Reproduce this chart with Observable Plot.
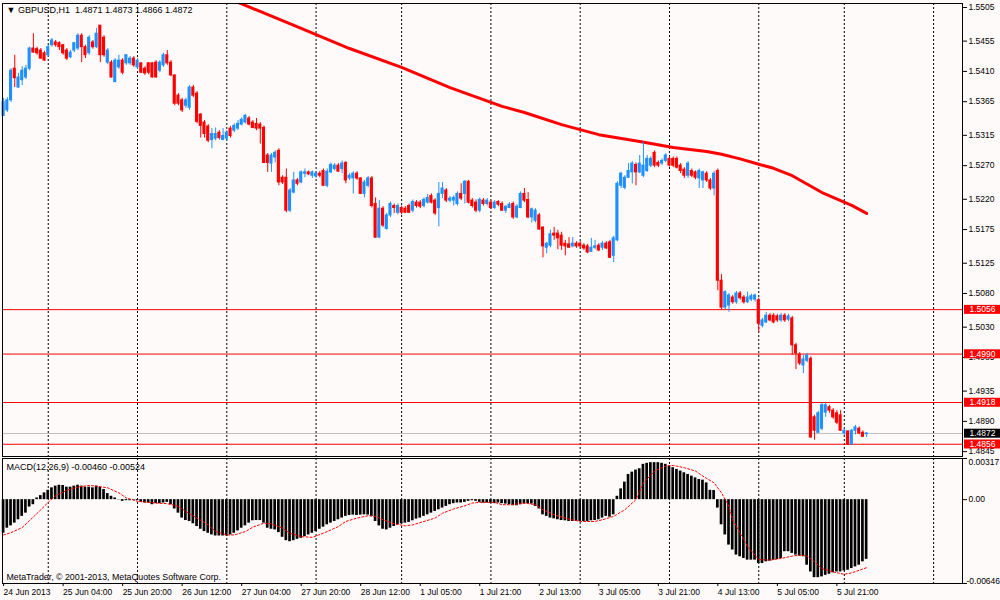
<!DOCTYPE html>
<html><head><meta charset="utf-8">
<script src="https://cdn.jsdelivr.net/npm/d3@7"></script>
<script src="https://cdn.jsdelivr.net/npm/@observablehq/plot@0.6"></script>
<style>
html,body{margin:0;padding:0;background:#fffafa;}
#chart{position:relative;width:1000px;height:600px;background:#fffafa;overflow:hidden;}
#chart svg{position:absolute;left:0;}
</style></head>
<body><div id="chart"></div>
<script>
const symbol = "GBPUSD", timeframe = "H1";
const open = [
1.5344,1.5352,1.5367,1.5414,1.5386,1.5397,1.5401,1.5414,1.5444,1.5443,
1.5441,1.5437,1.5434,1.5449,1.5453,1.5452,1.5449,1.5441,1.5431,1.5441,
1.5444,1.5463,1.5446,1.5437,1.5453,1.5446,1.5478,1.5460,1.5423,1.5423,
1.5394,1.5416,1.5426,1.5422,1.5422,1.5429,1.5416,1.5422,1.5414,1.5422,
1.5422,1.5423,1.5411,1.5419,1.5434,1.5423,1.5404,1.5374,1.5367,1.5359,
1.5356,1.5386,1.5377,1.5346,1.5334,1.5328,1.5308,1.5310,1.5319,1.5308,
1.5310,1.5325,1.5322,1.5325,1.5331,1.5334,1.5340,1.5334,1.5332,1.5331,
1.5326,1.5285,1.5273,1.5282,1.5292,1.5252,1.5252,1.5203,1.5230,1.5248,
1.5245,1.5258,1.5260,1.5255,1.5254,1.5258,1.5262,1.5240,1.5260,1.5265,
1.5270,1.5265,1.5274,1.5251,1.5251,1.5258,1.5251,1.5228,1.5240,1.5251,
1.5213,1.5163,1.5206,1.5176,1.5196,1.5210,1.5200,1.5207,1.5206,1.5210,
1.5203,1.5215,1.5215,1.5210,1.5215,1.5225,1.5218,1.5207,1.5228,1.5233,
1.5218,1.5218,1.5213,1.5228,1.5228,1.5246,1.5218,1.5215,1.5203,1.5218,
1.5213,1.5215,1.5207,1.5216,1.5213,1.5203,1.5207,1.5213,1.5193,1.5207,
1.5228,1.5219,1.5193,1.5188,1.5196,1.5178,1.5148,1.5151,1.5169,1.5169,
1.5166,1.5154,1.5153,1.5150,1.5154,1.5154,1.5151,1.5150,1.5142,1.5148,
1.5151,1.5148,1.5154,1.5156,1.5136,1.5159,1.5240,1.5237,1.5252,1.5260,
1.5271,1.5260,1.5255,1.5262,1.5270,1.5289,1.5274,1.5273,1.5277,1.5280,
1.5280,1.5280,1.5270,1.5264,1.5255,1.5262,1.5260,1.5251,1.5248,1.5258,
1.5248,1.5236,1.5262,1.5099,1.5059,1.5062,1.5074,1.5067,1.5080,1.5074,
1.5067,1.5071,1.5071,1.5070,1.5032,1.5037,1.5047,1.5047,1.5046,1.5040,
1.5047,1.5041,1.5043,1.5003,1.4989,1.4973,1.4980,1.4983,1.4896,1.4873,
1.4879,1.4903,1.4911,1.4906,1.4902,1.4899,1.4872,1.4875,1.4856,1.4876,
1.4879,1.4873,1.4871];
const high = [
1.5370,1.5371,1.5414,1.5434,1.5407,1.5417,1.5419,1.5446,1.5466,1.5446,
1.5444,1.5440,1.5449,1.5459,1.5456,1.5454,1.5450,1.5444,1.5441,1.5453,
1.5466,1.5466,1.5449,1.5463,1.5456,1.5474,1.5478,1.5463,1.5444,1.5426,
1.5429,1.5434,1.5429,1.5435,1.5432,1.5432,1.5429,1.5423,1.5417,1.5423,
1.5423,1.5426,1.5426,1.5437,1.5441,1.5426,1.5405,1.5377,1.5370,1.5370,
1.5389,1.5389,1.5380,1.5347,1.5337,1.5331,1.5325,1.5326,1.5322,1.5325,
1.5322,1.5328,1.5332,1.5337,1.5341,1.5346,1.5343,1.5337,1.5340,1.5334,
1.5329,1.5288,1.5288,1.5292,1.5295,1.5255,1.5265,1.5236,1.5260,1.5251,
1.5262,1.5265,1.5262,1.5262,1.5261,1.5261,1.5265,1.5265,1.5274,1.5273,
1.5273,1.5277,1.5276,1.5258,1.5261,1.5261,1.5252,1.5248,1.5254,1.5254,
1.5222,1.5218,1.5209,1.5199,1.5216,1.5213,1.5213,1.5210,1.5209,1.5213,
1.5219,1.5218,1.5218,1.5222,1.5227,1.5228,1.5221,1.5245,1.5245,1.5236,
1.5224,1.5225,1.5231,1.5243,1.5248,1.5248,1.5221,1.5219,1.5222,1.5221,
1.5221,1.5218,1.5218,1.5218,1.5216,1.5210,1.5215,1.5216,1.5212,1.5231,
1.5236,1.5230,1.5207,1.5206,1.5199,1.5179,1.5156,1.5174,1.5178,1.5174,
1.5171,1.5159,1.5163,1.5163,1.5157,1.5157,1.5154,1.5153,1.5162,1.5159,
1.5154,1.5157,1.5157,1.5159,1.5165,1.5246,1.5260,1.5255,1.5273,1.5276,
1.5274,1.5285,1.5305,1.5285,1.5283,1.5292,1.5277,1.5280,1.5288,1.5283,
1.5283,1.5283,1.5273,1.5267,1.5276,1.5265,1.5262,1.5265,1.5262,1.5261,
1.5251,1.5261,1.5265,1.5108,1.5084,1.5080,1.5077,1.5083,1.5083,1.5077,
1.5082,1.5079,1.5079,1.5073,1.5043,1.5052,1.5050,1.5050,1.5049,1.5050,
1.5050,1.5049,1.5046,1.5006,1.4992,1.4988,1.4991,1.4986,1.4899,1.4905,
1.4917,1.4917,1.4914,1.4909,1.4906,1.4906,1.4879,1.4876,1.4878,1.4884,
1.4882,1.4876,1.4873];
const low = [
1.5343,1.5349,1.5364,1.5386,1.5385,1.5389,1.5398,1.5411,1.5437,1.5434,
1.5428,1.5425,1.5431,1.5446,1.5446,1.5441,1.5434,1.5426,1.5429,1.5438,
1.5441,1.5423,1.5429,1.5434,1.5443,1.5444,1.5423,1.5431,1.5420,1.5400,
1.5394,1.5413,1.5405,1.5419,1.5419,1.5416,1.5413,1.5407,1.5404,1.5405,
1.5400,1.5400,1.5408,1.5416,1.5419,1.5402,1.5359,1.5359,1.5349,1.5355,
1.5352,1.5371,1.5332,1.5311,1.5311,1.5304,1.5295,1.5307,1.5308,1.5307,
1.5307,1.5311,1.5319,1.5322,1.5329,1.5332,1.5329,1.5325,1.5322,1.5302,
1.5273,1.5260,1.5260,1.5274,1.5240,1.5242,1.5200,1.5200,1.5228,1.5240,
1.5243,1.5252,1.5255,1.5251,1.5251,1.5252,1.5239,1.5237,1.5258,1.5262,
1.5260,1.5258,1.5243,1.5248,1.5228,1.5248,1.5227,1.5222,1.5237,1.5207,
1.5162,1.5162,1.5178,1.5174,1.5193,1.5199,1.5197,1.5197,1.5199,1.5199,
1.5200,1.5207,1.5206,1.5207,1.5213,1.5213,1.5196,1.5179,1.5221,1.5215,
1.5215,1.5210,1.5210,1.5218,1.5213,1.5213,1.5207,1.5200,1.5200,1.5210,
1.5210,1.5205,1.5205,1.5209,1.5202,1.5199,1.5206,1.5190,1.5191,1.5206,
1.5215,1.5191,1.5185,1.5185,1.5174,1.5133,1.5139,1.5148,1.5159,1.5145,
1.5144,1.5136,1.5147,1.5148,1.5147,1.5147,1.5144,1.5139,1.5141,1.5145,
1.5142,1.5144,1.5145,1.5132,1.5126,1.5157,1.5236,1.5234,1.5251,1.5243,
1.5240,1.5258,1.5252,1.5260,1.5267,1.5267,1.5267,1.5270,1.5274,1.5268,
1.5267,1.5265,1.5258,1.5251,1.5251,1.5252,1.5249,1.5236,1.5236,1.5245,
1.5233,1.5225,1.5084,1.5056,1.5056,1.5052,1.5064,1.5064,1.5070,1.5064,
1.5065,1.5068,1.5067,1.5022,1.5029,1.5035,1.5038,1.5035,1.5037,1.5037,
1.5037,1.5038,1.4988,1.4967,1.4973,1.4961,1.4977,1.4865,1.4862,1.4872,
1.4876,1.4896,1.4902,1.4893,1.4885,1.4875,1.4869,1.4854,1.4854,1.4870,
1.4870,1.4866,1.4866];
const close = [
1.5364,1.5367,1.5411,1.5400,1.5401,1.5411,1.5414,1.5444,1.5438,1.5437,
1.5429,1.5426,1.5446,1.5456,1.5449,1.5446,1.5437,1.5429,1.5438,1.5452,
1.5463,1.5446,1.5434,1.5460,1.5446,1.5466,1.5434,1.5434,1.5441,1.5401,
1.5426,1.5426,1.5408,1.5434,1.5429,1.5419,1.5426,1.5408,1.5407,1.5408,
1.5401,1.5401,1.5423,1.5434,1.5422,1.5404,1.5362,1.5362,1.5352,1.5367,
1.5386,1.5374,1.5335,1.5329,1.5317,1.5307,1.5317,1.5317,1.5311,1.5314,
1.5319,1.5314,1.5329,1.5332,1.5338,1.5344,1.5331,1.5326,1.5325,1.5325,
1.5274,1.5274,1.5285,1.5289,1.5245,1.5245,1.5203,1.5233,1.5248,1.5243,
1.5260,1.5260,1.5257,1.5260,1.5258,1.5255,1.5240,1.5261,1.5271,1.5270,
1.5261,1.5273,1.5248,1.5255,1.5258,1.5251,1.5228,1.5245,1.5251,1.5210,
1.5163,1.5206,1.5181,1.5196,1.5213,1.5207,1.5210,1.5200,1.5200,1.5200,
1.5216,1.5210,1.5209,1.5219,1.5222,1.5215,1.5199,1.5228,1.5236,1.5218,
1.5221,1.5222,1.5228,1.5221,1.5246,1.5215,1.5210,1.5203,1.5219,1.5213,
1.5218,1.5207,1.5215,1.5212,1.5203,1.5209,1.5212,1.5193,1.5209,1.5228,
1.5218,1.5193,1.5205,1.5203,1.5175,1.5150,1.5154,1.5168,1.5166,1.5162,
1.5151,1.5150,1.5148,1.5154,1.5150,1.5150,1.5147,1.5141,1.5148,1.5150,
1.5144,1.5154,1.5147,1.5133,1.5162,1.5243,1.5258,1.5252,1.5262,1.5273,
1.5260,1.5273,1.5270,1.5280,1.5280,1.5270,1.5270,1.5277,1.5285,1.5270,
1.5270,1.5267,1.5262,1.5255,1.5273,1.5255,1.5252,1.5262,1.5260,1.5248,
1.5236,1.5258,1.5099,1.5059,1.5082,1.5077,1.5067,1.5080,1.5073,1.5067,
1.5074,1.5076,1.5077,1.5035,1.5040,1.5047,1.5040,1.5037,1.5040,1.5047,
1.5040,1.5046,1.5003,1.4991,1.4976,1.4982,1.4988,1.4866,1.4876,1.4902,
1.4914,1.4914,1.4906,1.4896,1.4888,1.4876,1.4876,1.4856,1.4876,1.4881,
1.4872,1.4867,1.4872];

const maBar = [61,65,80,93,107,120,134,140,150,160,171,180,189,193,198,203,207,212,220,228,232];
const maValue = [1.5517,1.5508,1.5474,1.5444,1.5416,1.5386,1.5358,1.5349,1.5331,1.5316,1.5306,1.5297,1.5291,1.5287,1.5280,1.5272,1.5266,1.5255,1.5230,1.5211,1.5199];

const levels = [1.5056, 1.4990, 1.4918, 1.4856];
const currentPrice = 1.4872;
const priceTicks = [1.5505,1.5455,1.5410,1.5365,1.5315,1.5270,1.5220,1.5175,1.5125,1.5080,1.5030,1.4985,1.4935,1.4890,1.4845];

const gridBars = [12,36,60,84,107,131,155,179,203,226,250];
const labelBars = [0,16,32,48,64,80,96,112,128,144,160,176,192,208,224];
const timeLabels = ["24 Jun 2013","25 Jun 04:00","25 Jun 20:00","26 Jun 12:00","27 Jun 04:00","27 Jun 20:00","28 Jun 12:00","1 Jul 05:00","1 Jul 21:00","2 Jul 13:00","3 Jul 05:00","3 Jul 21:00","4 Jul 13:00","5 Jul 05:00","5 Jul 21:00"];

const macdHist = [
-0.00259,-0.00220,-0.00202,-0.00181,-0.00155,-0.00129,-0.00104,-0.00057,-0.00039,0.00013,
0.00031,0.00052,0.00072,0.00091,0.00104,0.00111,0.00109,0.00096,0.00096,0.00104,
0.00111,0.00104,0.00096,0.00096,0.00091,0.00104,0.00096,0.00078,0.00047,0.00026,
0.00013,-0.00002,-0.00013,-0.00008,-0.00008,-0.00005,-0.00008,-0.00021,-0.00026,-0.00026,
-0.00039,-0.00031,-0.00031,-0.00026,-0.00021,-0.00039,-0.00072,-0.00104,-0.00142,-0.00161,
-0.00168,-0.00186,-0.00207,-0.00228,-0.00246,-0.00259,-0.00272,-0.00280,-0.00280,-0.00280,
-0.00280,-0.00272,-0.00259,-0.00241,-0.00220,-0.00202,-0.00181,-0.00163,-0.00161,-0.00161,
-0.00181,-0.00220,-0.00228,-0.00233,-0.00254,-0.00290,-0.00316,-0.00324,-0.00316,-0.00306,
-0.00298,-0.00285,-0.00272,-0.00259,-0.00246,-0.00228,-0.00212,-0.00194,-0.00181,-0.00168,
-0.00155,-0.00142,-0.00129,-0.00122,-0.00119,-0.00122,-0.00119,-0.00117,-0.00119,-0.00129,
-0.00168,-0.00202,-0.00228,-0.00233,-0.00220,-0.00207,-0.00194,-0.00186,-0.00181,-0.00176,
-0.00163,-0.00150,-0.00142,-0.00129,-0.00117,-0.00104,-0.00091,-0.00078,-0.00065,-0.00052,
-0.00039,-0.00031,-0.00026,-0.00026,-0.00021,-0.00013,-0.00008,-0.00013,-0.00021,-0.00026,
-0.00026,-0.00026,-0.00031,-0.00026,-0.00031,-0.00034,-0.00039,-0.00047,-0.00047,-0.00039,
-0.00034,-0.00031,-0.00034,-0.00052,-0.00072,-0.00117,-0.00129,-0.00142,-0.00148,-0.00155,
-0.00161,-0.00163,-0.00168,-0.00168,-0.00168,-0.00168,-0.00168,-0.00168,-0.00163,-0.00161,
-0.00155,-0.00142,-0.00129,-0.00135,-0.00117,0.00026,0.00083,0.00135,0.00194,0.00212,
0.00228,0.00238,0.00272,0.00280,0.00285,0.00285,0.00285,0.00280,0.00272,0.00259,
0.00246,0.00233,0.00220,0.00207,0.00194,0.00181,0.00168,0.00155,0.00150,0.00129,
0.00072,0.00070,-0.00065,-0.00194,-0.00272,-0.00350,-0.00388,-0.00427,-0.00440,-0.00453,
-0.00466,-0.00466,-0.00466,-0.00492,-0.00492,-0.00479,-0.00474,-0.00466,-0.00461,-0.00453,
-0.00401,-0.00401,-0.00414,-0.00427,-0.00435,-0.00440,-0.00505,-0.00557,-0.00601,-0.00601,
-0.00595,-0.00583,-0.00575,-0.00564,-0.00557,-0.00557,-0.00549,-0.00544,-0.00531,-0.00518,
-0.00505,-0.00479,-0.00460];

const signalBar = [0,2,5,7,10,12,14,17,20,23,25,28,31,33,36,39,41,44,47,49,52,55,57,60,62,65,67,70,72,75,77,80,83,84,87,90,92,95,98,100,102,105,108,110,113,116,118,121,124,126,128,132,134,136,139,140,143,145,148,152,155,159,161,164,167,170,172,175,178,180,183,186,188,191,193,195,196,198,200,202,203,206,209,212,214,216,218,220,223,226,228,230,232];
const signalValue = [-0.00272,-0.00254,-0.00215,-0.00161,-0.00078,-0.00021,0.00031,0.00072,0.00098,0.00109,0.00104,0.00091,0.00052,0.00013,-0.00013,-0.00021,-0.00026,-0.00031,-0.00052,-0.00091,-0.00142,-0.00194,-0.00246,-0.00272,-0.00272,-0.00246,-0.00212,-0.00181,-0.00186,-0.00220,-0.00259,-0.00285,-0.00290,-0.00280,-0.00246,-0.00207,-0.00168,-0.00142,-0.00124,-0.00129,-0.00155,-0.00186,-0.00202,-0.00194,-0.00168,-0.00142,-0.00104,-0.00072,-0.00047,-0.00026,-0.00021,-0.00021,-0.00039,-0.00039,-0.00031,-0.00026,-0.00039,-0.00078,-0.00117,-0.00150,-0.00168,-0.00168,-0.00155,-0.00129,-0.00078,0.00000,0.00129,0.00220,0.00259,0.00264,0.00246,0.00220,0.00181,0.00129,0.00052,-0.00052,-0.00155,-0.00259,-0.00362,-0.00427,-0.00461,-0.00466,-0.00453,-0.00435,-0.00427,-0.00435,-0.00479,-0.00531,-0.00557,-0.00575,-0.00564,-0.00544,-0.00524];
const macdTicks = [0.00317, 0, -0.00646];
const copyright = "MetaTrader, \u00a9 2001-2013, MetaQuotes Software Corp.";

// ---------- build ----------
const FONT = "'Liberation Sans', Arial, sans-serif";
const UP = "#1e90ff", DOWN = "#ff0000";
const AXFS = 8.5;
const xOpt = {domain: [-0.2957, 257.77], axis: null, label: null};
const N = close.length;
const candles = close.map((c, i) => ({i, o: open[i], h: high[i], l: low[i], c}));
const ups = candles.filter(d => d.c >= d.o);
const downs = candles.filter(d => d.c < d.o);
const ma = maBar.map((b, k) => ({b, v: maValue[k]}));
const hist = macdHist.map((v, i) => ({i, v}));
const sig = signalBar.map((b, k) => ({b, v: signalValue[k]}));
const labelMap = new Map(labelBars.map((b, k) => [b, timeLabels[k]]));
const last = candles[N - 1];
const title = "\u25BC " + symbol + "," + timeframe + "\u00a0\u00a0" +
  [last.o, last.h, last.l, last.c].map(v => v.toFixed(4)).join(" ");
const macdTitle = "MACD(12,26,9) " + macdHist[N - 1].toFixed(5) + " " + signalValue[signalValue.length - 1].toFixed(5);
const style = {background: "transparent", fontFamily: FONT, fontSize: "9px", color: "black"};

const wick = (data, color) => Plot.ruleX(data, {x: "i", y1: "l", y2: "h", stroke: color, strokeWidth: 1});
const body = (data, color) => Plot.rect(data, {x1: d => d.i - 0.42, x2: d => d.i + 0.42, y1: "o", y2: "c", fill: color, insetTop: -0.5, insetBottom: -0.5});

const mainPlot = Plot.plot({
  width: 1000, height: 457, marginTop: 3, marginBottom: 1, marginLeft: 2, marginRight: 38,
  x: xOpt,
  y: {domain: [1.48378, 1.55109], axis: null, label: null},
  style,
  marks: [
    Plot.ruleX(gridBars, {stroke: "black", strokeDasharray: "2,2"}),
    Plot.ruleY([currentPrice], {stroke: "#c0c0c0"}),
    Plot.ruleY(levels, {stroke: "#ff0000"}),
    Plot.line(ma, {x: "b", y: "v", stroke: "#ff0000", strokeWidth: 3, clip: true}),
    wick(ups, UP), wick(downs, DOWN),
    body(ups, UP), body(downs, DOWN),
    Plot.frame({stroke: "black"}),
    Plot.axisY(priceTicks, {anchor: "right", label: null, tickSize: 4, tickPadding: 2, fontSize: AXFS, tickFormat: d => d.toFixed(4)}),
    Plot.text(levels, {y: d => d, frameAnchor: "right", dx: 7, textAnchor: "start", fontSize: AXFS, text: d => d.toFixed(4), fill: "white"}),
    Plot.text([currentPrice], {y: d => d, frameAnchor: "right", dx: 7, textAnchor: "start", fontSize: AXFS, text: d => d.toFixed(4), fill: "white"}),
    Plot.text([title], {frameAnchor: "top-left", dx: 4, dy: 7, lineAnchor: "middle", textAnchor: "start", text: d => d, fill: "black"})
  ]
});

const macdPlot = Plot.plot({
  width: 1000, height: 143, marginTop: 1, marginBottom: 17, marginLeft: 2, marginRight: 38,
  x: xOpt,
  y: {domain: [-0.00646, 0.00317], axis: null, label: null},
  style,
  marks: [
    Plot.ruleX(gridBars, {stroke: "black", strokeDasharray: "2,2"}),
    Plot.rect(hist, {x1: d => d.i - 0.36, x2: d => d.i + 0.36, y1: 0, y2: "v", fill: "black"}),
    Plot.line(sig, {x: "b", y: "v", stroke: "#ff0000", strokeWidth: 1, strokeDasharray: "2,2"}),
    Plot.frame({stroke: "black"}),
    Plot.axisY([macdTicks[0]], {anchor: "right", label: null, tickSize: 4, tickPadding: 2, fontSize: AXFS, lineAnchor: "top", tickFormat: d => d.toFixed(5)}),
    Plot.axisY([macdTicks[1]], {anchor: "right", label: null, tickSize: 4, tickPadding: 2, fontSize: AXFS, tickFormat: () => "0.00"}),
    Plot.axisY([macdTicks[2]], {anchor: "right", label: null, tickSize: 4, tickPadding: 0, fontSize: AXFS, lineAnchor: "bottom", tickFormat: d => d.toFixed(5)}),
    Plot.axisX(labelBars, {anchor: "bottom", label: null, tickSize: 3, tickPadding: 2, fontSize: AXFS, textAnchor: "start", tickFormat: d => labelMap.get(d)}),
    Plot.text([macdTitle], {frameAnchor: "top-left", dx: 4, dy: 8.5, lineAnchor: "middle", textAnchor: "start", text: d => d, fill: "black"}),
    Plot.text([copyright], {frameAnchor: "bottom-left", dx: 4, dy: -6, lineAnchor: "middle", textAnchor: "start", fontSize: 8.8, text: d => d, fill: "black"})
  ]
});

const chart = document.getElementById("chart");
mainPlot.style.top = "0px";
macdPlot.style.top = "457px";
chart.appendChild(mainPlot);
chart.appendChild(macdPlot);

// price-label boxes behind the level texts (sized from each text's own box)
const boxFill = new Map(levels.map(v => [v.toFixed(4), "#ff0000"]));
boxFill.set(currentPrice.toFixed(4), "#000000");
mainPlot.querySelectorAll("text").forEach(t => {
  const fill = boxFill.get(t.textContent);
  if (!fill) return;
  const b = t.getBBox();
  const r = document.createElementNS("http://www.w3.org/2000/svg", "rect");
  r.setAttribute("x", b.x - 5.5);
  r.setAttribute("y", b.y + 0.5);
  r.setAttribute("width", b.width + 10);
  r.setAttribute("height", b.height - 1);
  r.setAttribute("fill", fill);
  const tr = t.getAttribute("transform");
  if (tr) r.setAttribute("transform", tr);
  t.parentNode.insertBefore(r, t);
});
</script>
</body></html>
